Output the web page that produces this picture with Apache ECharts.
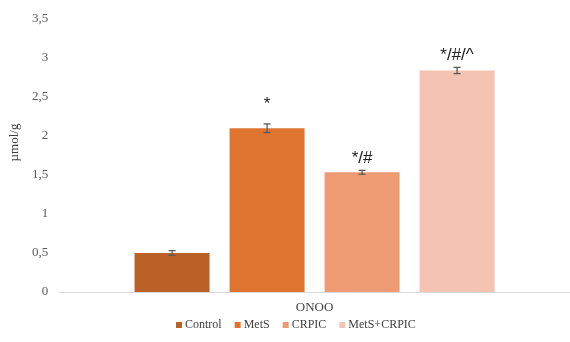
<!DOCTYPE html>
<html>
<head>
<meta charset="utf-8">
<script src="https://cdn.jsdelivr.net/npm/echarts@6/dist/echarts.min.js"></script>
<style>
html,body{margin:0;padding:0;background:#fff;}
#chart{width:570px;height:342px;}
</style>
</head>
<body>
<div id="chart"></div>
<script>
// ONOO content per group (µmol/g), with SEM and significance marks
const categories = ['ONOO'];
const groups = ['Control', 'MetS', 'CRPIC', 'MetS+CRPIC'];
const values = [0.50, 2.10, 1.535, 2.84];
const errors = [0.03, 0.055, 0.025, 0.04];
const marks = ['', '*', '*/#', '*/#/^'];
const colors = ['#BA6127', '#DE742F', '#EE9A72', '#F4C3B2'];
const yTicks = ['0', '0,5', '1', '1,5', '2', '2,5', '3', '3,5'];

const serif = '"Liberation Serif", "Times New Roman", serif';
// lift of each mark above its error-bar cap (px)
const markLift = [0, 11, 4, 4];

const series = [];
groups.forEach((g, i) => {
  series.push({
    name: g,
    type: 'bar',
    barWidth: 75,
    barGap: '26.7%',
    itemStyle: { color: colors[i] },
    data: [values[i]],
    z: 2
  });
});

// Error bars with caps, plus the significance marks above them
groups.forEach((g, i) => {
  series.push({
    type: 'custom',
    name: g + ' err',
    data: [[0, values[i] - errors[i], values[i] + errors[i]]],
    z: 5,
    renderItem: function (params, api) {
      const lo = api.coord([api.value(0), api.value(1)]);
      const hi = api.coord([api.value(0), api.value(2)]);
      const barW = 75, gap = 20;
      const total = groups.length * barW + (groups.length - 1) * gap;
      const x = lo[0] - total / 2 + barW / 2 + i * (barW + gap);
      const cap = 3.5;
      const st = { stroke: '#5a5a5a', lineWidth: 1.3 };
      const children = [
        { type: 'line', shape: { x1: x, y1: lo[1], x2: x, y2: hi[1] }, style: st },
        { type: 'line', shape: { x1: x - cap, y1: lo[1], x2: x + cap, y2: lo[1] }, style: st },
        { type: 'line', shape: { x1: x - cap, y1: hi[1], x2: x + cap, y2: hi[1] }, style: st }
      ];
      if (marks[i]) {
        children.push({
          type: 'text',
          style: {
            x: x, y: hi[1] - markLift[i],
            text: marks[i],
            textAlign: 'center',
            textVerticalAlign: 'bottom',
            fill: '#222',
            font: '17px "Liberation Sans", Arial, sans-serif'
          }
        });
      }
      return { type: 'group', children: children };
    }
  });
});

const chart = echarts.init(document.getElementById('chart'));
chart.setOption({
  animation: false,
  legend: {
    data: groups,
    bottom: 6,
    left: 171,
    itemWidth: 6,
    itemHeight: 6,
    itemGap: 13,
    icon: 'rect',
    textStyle: { fontFamily: serif, fontSize: 12, color: '#404040', padding: [0, 0, 0, -2] }
  },
  grid: { left: 54, right: -2, top: 19, bottom: 50 },
  xAxis: {
    type: 'category',
    data: categories,
    axisLine: { lineStyle: { color: '#d9d9d9', width: 1 } },
    axisTick: { show: false },
    axisLabel: { fontFamily: serif, fontSize: 13, color: '#404040', margin: 9 }
  },
  yAxis: {
    type: 'value',
    min: 0, max: 3.5, interval: 0.5,
    name: 'µmol/g',
    nameLocation: 'middle',
    nameRotate: 90,
    nameGap: 31,
    nameTextStyle: { fontFamily: serif, fontSize: 13, color: '#404040', padding: [0, 0, 0, 26] },
    axisLine: { show: false },
    axisTick: { show: false },
    splitLine: { show: false },
    axisLabel: {
      fontFamily: serif, fontSize: 13, color: '#595959', margin: 11,
      formatter: function (v) { return yTicks[Math.round(v / 0.5)]; }
    }
  },
  series: series
});
</script>
</body>
</html>
